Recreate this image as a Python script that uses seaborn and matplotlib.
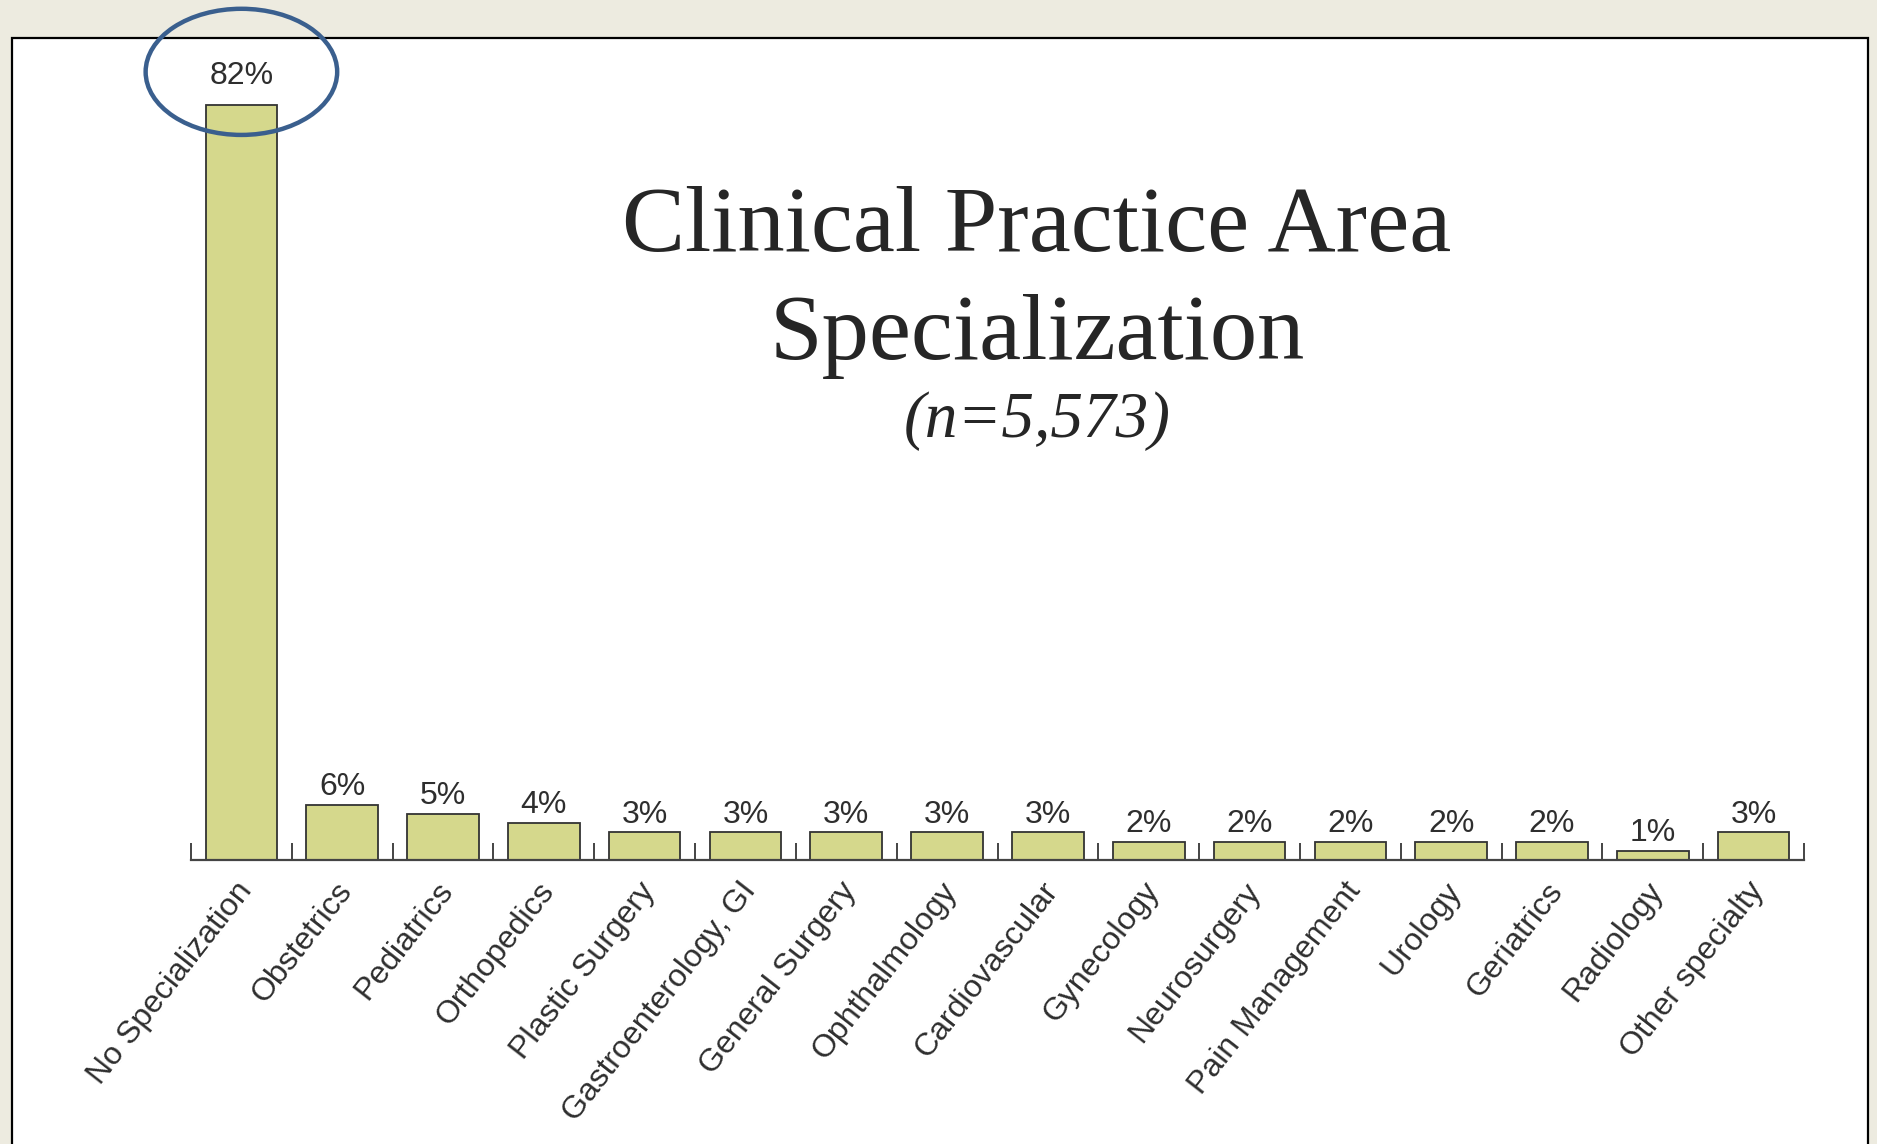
"""
Clinical practice area specialization bar chart
"""

import matplotlib
matplotlib.use('Agg')
import matplotlib.pyplot as plt
import matplotlib.transforms as mtransforms
from matplotlib.patches import Ellipse, Rectangle
from matplotlib.ticker import FixedLocator
import seaborn as sns

# Data
categories = ['No Specialization', 'Obstetrics', 'Pediatrics', 'Orthopedics',
              'Plastic Surgery', 'Gastroenterology, GI', 'General Surgery',
              'Ophthalmology', 'Cardiovascular', 'Gynecology', 'Neurosurgery',
              'Pain Management', 'Urology', 'Geriatrics', 'Radiology',
              'Other specialty']
percents = [82, 6, 5, 4, 3, 3, 3, 3, 3, 2, 2, 2, 2, 2, 1, 3]
value_labels = [f'{p}%' for p in percents]

title_lines = ['Clinical Practice Area', 'Specialization']
subtitle = '(n=5,573)'

# Colours
BG = '#EDEBE0'
BAR = '#D5D88C'
EDGE = '#333333'
TEXT = '#2E2E2E'
RING = '#3A5F8E'
SERIF = ['Liberation Serif', 'DejaVu Serif']

sns.set_style('white')
plt.rcParams['font.family'] = ['Liberation Sans', 'DejaVu Sans']

W, H = 1877, 1144
fig = plt.figure(figsize=(W / 100, H / 100), dpi=100, facecolor=BG)

# White panel with black frame
fig.add_artist(Rectangle((12 / W, -0.01), (1868 - 12) / W, 1.01 - 38 / H,
                         transform=fig.transFigure, facecolor='white',
                         edgecolor='black', lw=1.6, zorder=0))

# Axes: baseline at y=860px, x from 191 to 1804 px
ax_left, ax_right = 191 / W, 1804 / W
ax_bottom = (H - 860) / H
ax_top = (H - 45) / H
ax = fig.add_axes([ax_left, ax_bottom, ax_right - ax_left, ax_top - ax_bottom])
ax.patch.set_alpha(0)

sns.barplot(x=categories, y=percents, color=BAR, saturation=1, width=0.71,
            edgecolor=EDGE, linewidth=1.3, ax=ax)

ymax = 82 * (860 - 45) / 755
ax.set_xlim(-0.5, len(categories) - 0.5)
ax.set_ylim(0, ymax)

# Value labels
for i, (p, lab) in enumerate(zip(percents, value_labels)):
    off = 10 if p > 50 else 2
    ax.annotate(lab, (i, p), xytext=(0, off), textcoords='offset points',
                ha='center', va='bottom', fontsize=23, color=TEXT)

# Spines and ticks
for s in ['left', 'top', 'right']:
    ax.spines[s].set_visible(False)
ax.spines['bottom'].set_color('#444444')
ax.spines['bottom'].set_linewidth(1.6)
ax.set_yticks([])
ax.set_xticks(range(len(categories)))
ax.set_xticklabels(categories, rotation=52, ha='right', va='top',
                   rotation_mode='anchor', fontsize=23, color=TEXT)
ax.tick_params(axis='x', which='major', length=0, pad=12)
shift = mtransforms.ScaledTranslation(-0.07, 0, fig.dpi_scale_trans)
for lbl in ax.get_xticklabels():
    lbl.set_transform(lbl.get_transform() + shift)
ax.xaxis.set_minor_locator(FixedLocator([i - 0.5 for i in range(len(categories) + 1)]))
ax.tick_params(axis='x', which='minor', direction='in', length=12,
               width=1.4, color='#444444', bottom=True)
ax.set_xlabel('')
ax.set_ylabel('')

# Ring around the top label
ax.add_patch(Ellipse((0, 85.6), 1.9, 13.7, fill=False, edgecolor=RING,
                     lw=3.2, clip_on=False, zorder=5))

# Title block
tx = 1037 / W
fig.text(tx, 1 - 251 / H, title_lines[0], ha='center', va='baseline',
         fontsize=68, family=SERIF, color='#262626')
fig.text(tx, 1 - 359 / H, title_lines[1], ha='center', va='baseline',
         fontsize=68, family=SERIF, color='#262626')
fig.text(tx, 1 - 437 / H, subtitle, ha='center', va='baseline',
         fontsize=47, style='italic', family=SERIF, color='#262626')

plt.savefig('out.png', dpi=100, facecolor=BG)
